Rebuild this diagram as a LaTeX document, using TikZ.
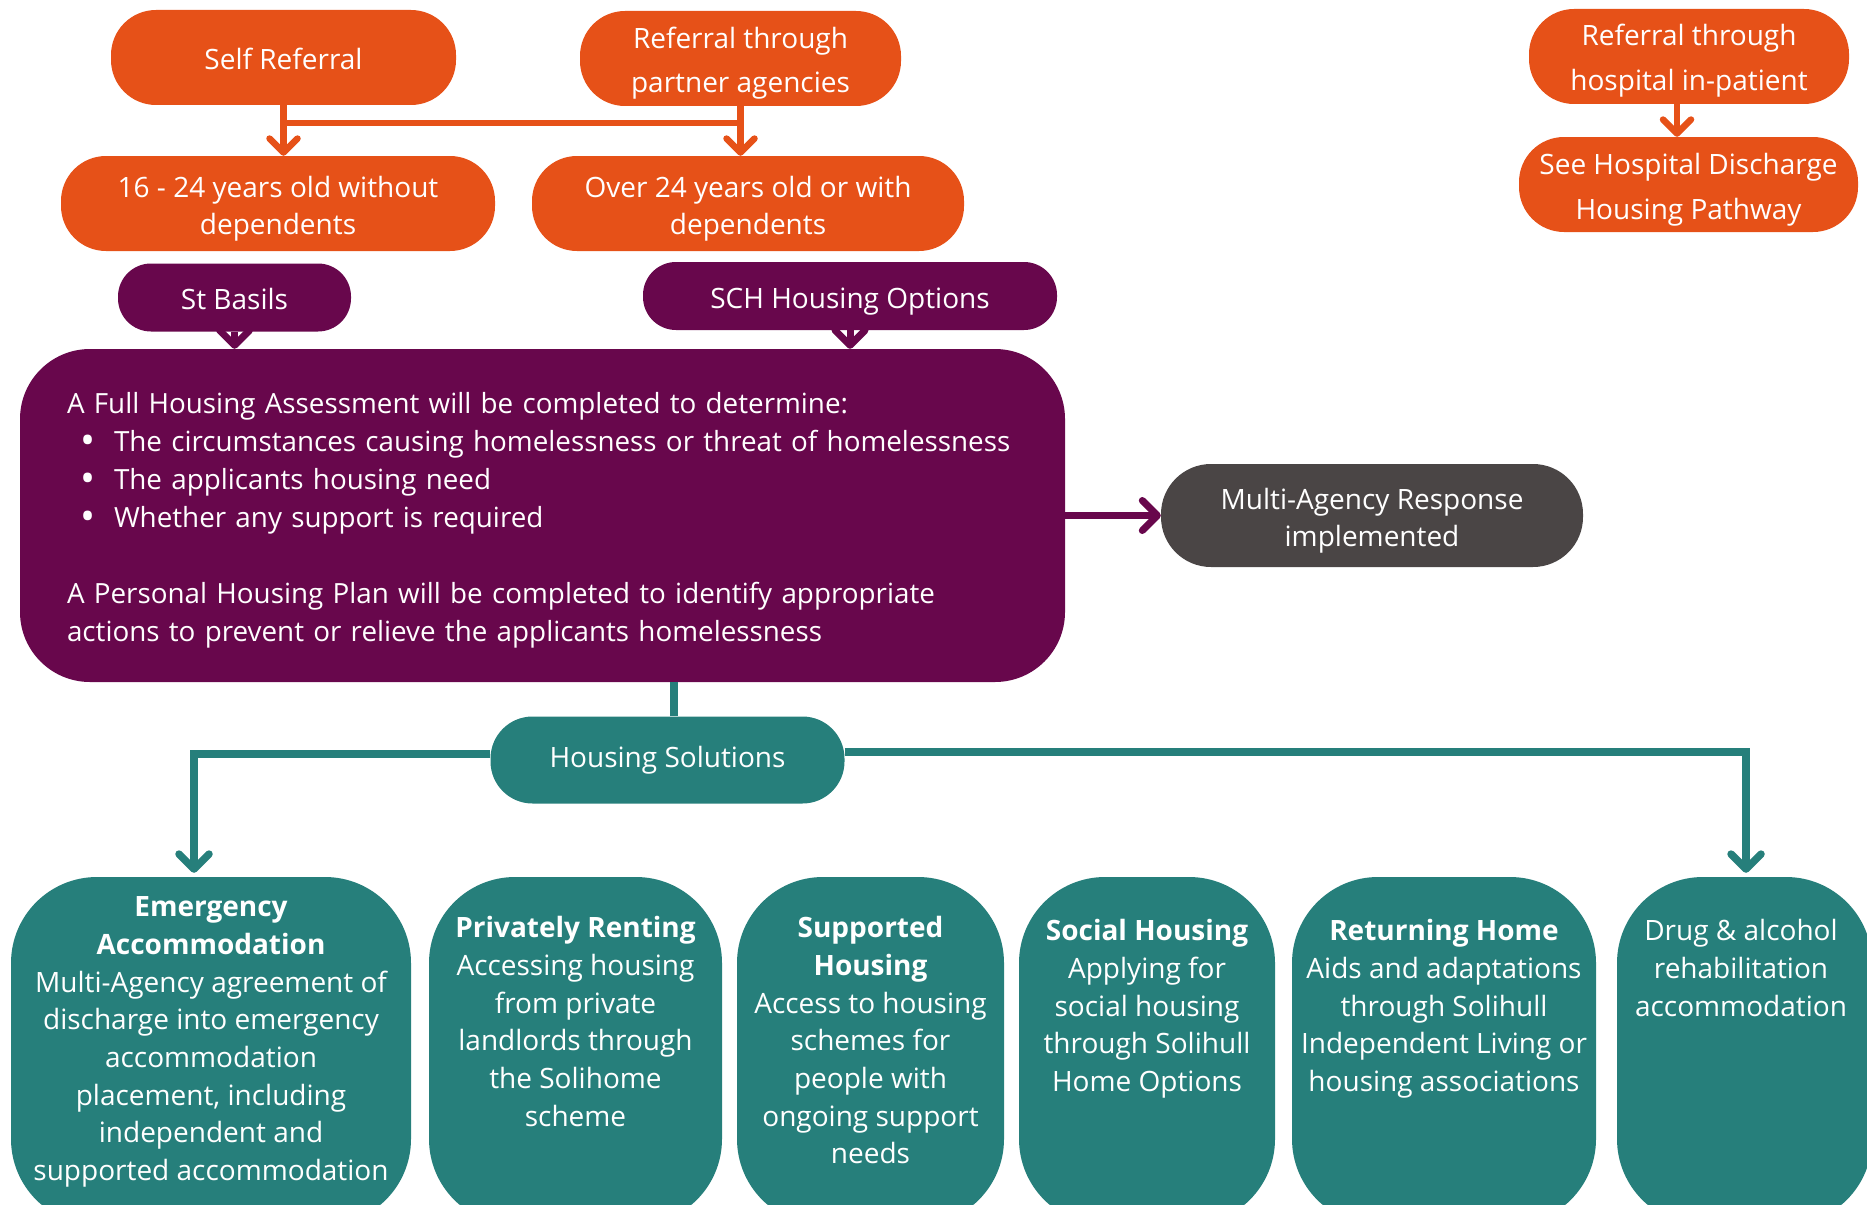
\documentclass[tikz,border=0pt]{standalone}
\usepackage{fontspec}
\setmainfont{Open Sans}
\usetikzlibrary{arrows.meta}
\definecolor{corange}{HTML}{E65118}
\definecolor{cpurple}{HTML}{68074C}
\definecolor{cteal}{HTML}{267F7B}
\definecolor{cgray}{HTML}{4A4545}
\newcommand{\mybul}{\makebox[47pt][l]{\hspace*{13pt}\raisebox{-2.5pt}{\fontsize{40}{38}\selectfont\textbullet}}}
\newcommand{\tA}{\rule{0pt}{32pt}}
\newcommand{\tD}{\rule[-8pt]{0pt}{8pt}}
\begin{document}
\begin{tikzpicture}[x=1pt,y=-1pt,
  pillbox/.style={rounded corners=#1, inner sep=0pt, align=center, text=white},
  obox/.style={pillbox=45pt, fill=corange, minimum height=95pt, font=\fontsize{28}{44}\selectfont},
  pbox/.style={pillbox=33pt, fill=cpurple, minimum height=68pt, font=\fontsize{28}{36}\selectfont},
  tbox/.style={pillbox=86pt, fill=cteal, minimum height=348pt},
  ttext/.style={align=center, text=white, inner sep=0pt, anchor=north, font=\fontsize{28}{37.7}\selectfont},
  oarrow/.style={draw=corange, line width=6.5pt, -{Straight Barb[length=14pt,width=28pt,round]}},
  oline/.style={draw=corange, line width=6.5pt},
  parrow/.style={draw=cpurple, line width=7pt, -{Straight Barb[length=15pt,width=30pt,round]}},
  tline/.style={draw=cteal, line width=7.5pt},
  tarrow/.style={tline, -{Straight Barb[length=15pt,width=30pt,round]}},
]
\useasboundingbox (0,0) rectangle (1867,1204);
\clip (0,0) rectangle (1867,1204);

% top orange boxes
\node[obox, minimum width=345pt] (sr) at (283.5,57.5) {\tA Self Referral\tD};
\node[obox, minimum width=321pt] (pa) at (740.5,58.5) {\tA Referral through\\partner agencies\tD};
\node[obox, minimum width=434pt, font=\fontsize{28}{37}\selectfont] (y16) at (278,203.5) {\tA 16 - 24 years old without\\dependents\tD};
\node[obox, minimum width=432pt, font=\fontsize{28}{37}\selectfont] (o24) at (748,203.5) {\tA Over 24 years old or with\\dependents\tD};
\node[obox, minimum width=320pt, font=\fontsize{28}{45}\selectfont] (hr) at (1689,56.5) {\tA Referral through\\hospital in-patient\tD};
\node[obox, minimum width=339pt, font=\fontsize{28}{45}\selectfont] (hd) at (1688.5,184.5) {\tA See Hospital Discharge\\Housing Pathway\tD};

% purple boxes
\node[pbox, minimum width=233pt] (sb) at (234.5,297.5) {\tA St Basils\tD};
\node[pbox, minimum width=414pt] (sch) at (850,296) {\tA SCH Housing Options\tD};

\node[pillbox=70pt, fill=cpurple, minimum width=1045pt, minimum height=333pt,
      text width=951pt, inner xsep=47pt, align=left, font=\fontsize{27.8}{38}\selectfont] (fha) at (542.5,515.5)
 {\tA A Full Housing Assessment will be completed to determine:\\
  \mybul The circumstances causing homelessness or threat of homelessness\\
  \mybul The applicants housing need\\
  \mybul Whether any support is required\\[38pt]
  A Personal Housing Plan will be completed to identify appropriate\\
  actions to prevent or relieve the applicants homelessness\tD};

\node[pillbox=50pt, fill=cgray, minimum width=422pt, minimum height=103pt, font=\fontsize{28}{37}\selectfont] (ma) at (1372,515.5) {\tA Multi-Agency Response\\implemented\tD};

\node[pillbox=42pt, fill=cteal, minimum width=354pt, minimum height=87pt, font=\fontsize{28}{36}\selectfont] (hs) at (667.5,760) {\rule{0pt}{23pt}Housing Solutions\tD};

% bottom teal boxes
\node[tbox, minimum width=400pt] (b1) at (211,1051) {};
\node[tbox, minimum width=293pt] (b2) at (575.5,1051) {};
\node[tbox, minimum width=267pt] (b3) at (870.5,1051) {};
\node[tbox, minimum width=256pt] (b4) at (1147,1051) {};
\node[tbox, minimum width=304pt] (b5) at (1444,1051) {};
\node[tbox, minimum width=255pt] (b6) at (1744.5,1051) {};

\node[ttext] (b1t) at (211,890) {\strut\textbf{Emergency}\\\textbf{Accommodation}\\Multi-Agency agreement of\\discharge into emergency\\accommodation\\placement, including\\independent and\\supported accommodation};
\node[ttext] (b2t) at (575.5,911) {\strut\textbf{Privately Renting}\\Accessing housing\\from private\\landlords through\\the Solihome\\scheme};
\node[ttext] (b3t) at (870.5,911) {\strut\textbf{Supported}\\\textbf{Housing}\\Access to housing\\schemes for\\people with\\ongoing support\\needs};
\node[ttext] (b4t) at (1147,914) {\strut\textbf{Social Housing}\\Applying for\\social housing\\through Solihull\\Home Options};
\node[ttext] (b5t) at (1444,914) {\strut\textbf{Returning Home}\\Aids and adaptations\\through Solihull\\Independent Living or\\housing associations};
\node[ttext] (b6t) at (1741,914) {\strut Drug \& alcohol\\rehabilitation\\accommodation};

% orange connectors
\coordinate (j1) at (sr.south |- 0,123);
\coordinate (j2) at (pa.south |- 0,123);
\draw[oarrow] (sr.south) -- (sr.south |- y16.north);
\draw[oarrow] (pa.south) -- (pa.south |- o24.north);
\draw[oline] (j1) -- (j2);
\draw[oarrow] ([xshift=-12pt]hr.south) -- ([xshift=-12pt]hr.south |- hd.north);

% purple connectors
\draw[parrow] (sb.south) -- (sb.south |- fha.north);
\draw[parrow] (sch.south) -- (sch.south |- fha.north);
\draw[parrow] (fha.east) -- (ma.west);

% teal connectors
\coordinate (tx) at (674,0);
\coordinate (ea) at (194,0);
\coordinate (eb) at (1746,0);
\draw[tline] (fha.south -| tx) -- (hs.north -| tx);
\draw[tarrow, shorten >=4pt] ([yshift=6pt]hs.west) -| (b1.north -| ea);
\draw[tarrow, shorten >=4pt] ([yshift=8pt]hs.east) -| (b6.north -| eb);
\end{tikzpicture}
\end{document}
